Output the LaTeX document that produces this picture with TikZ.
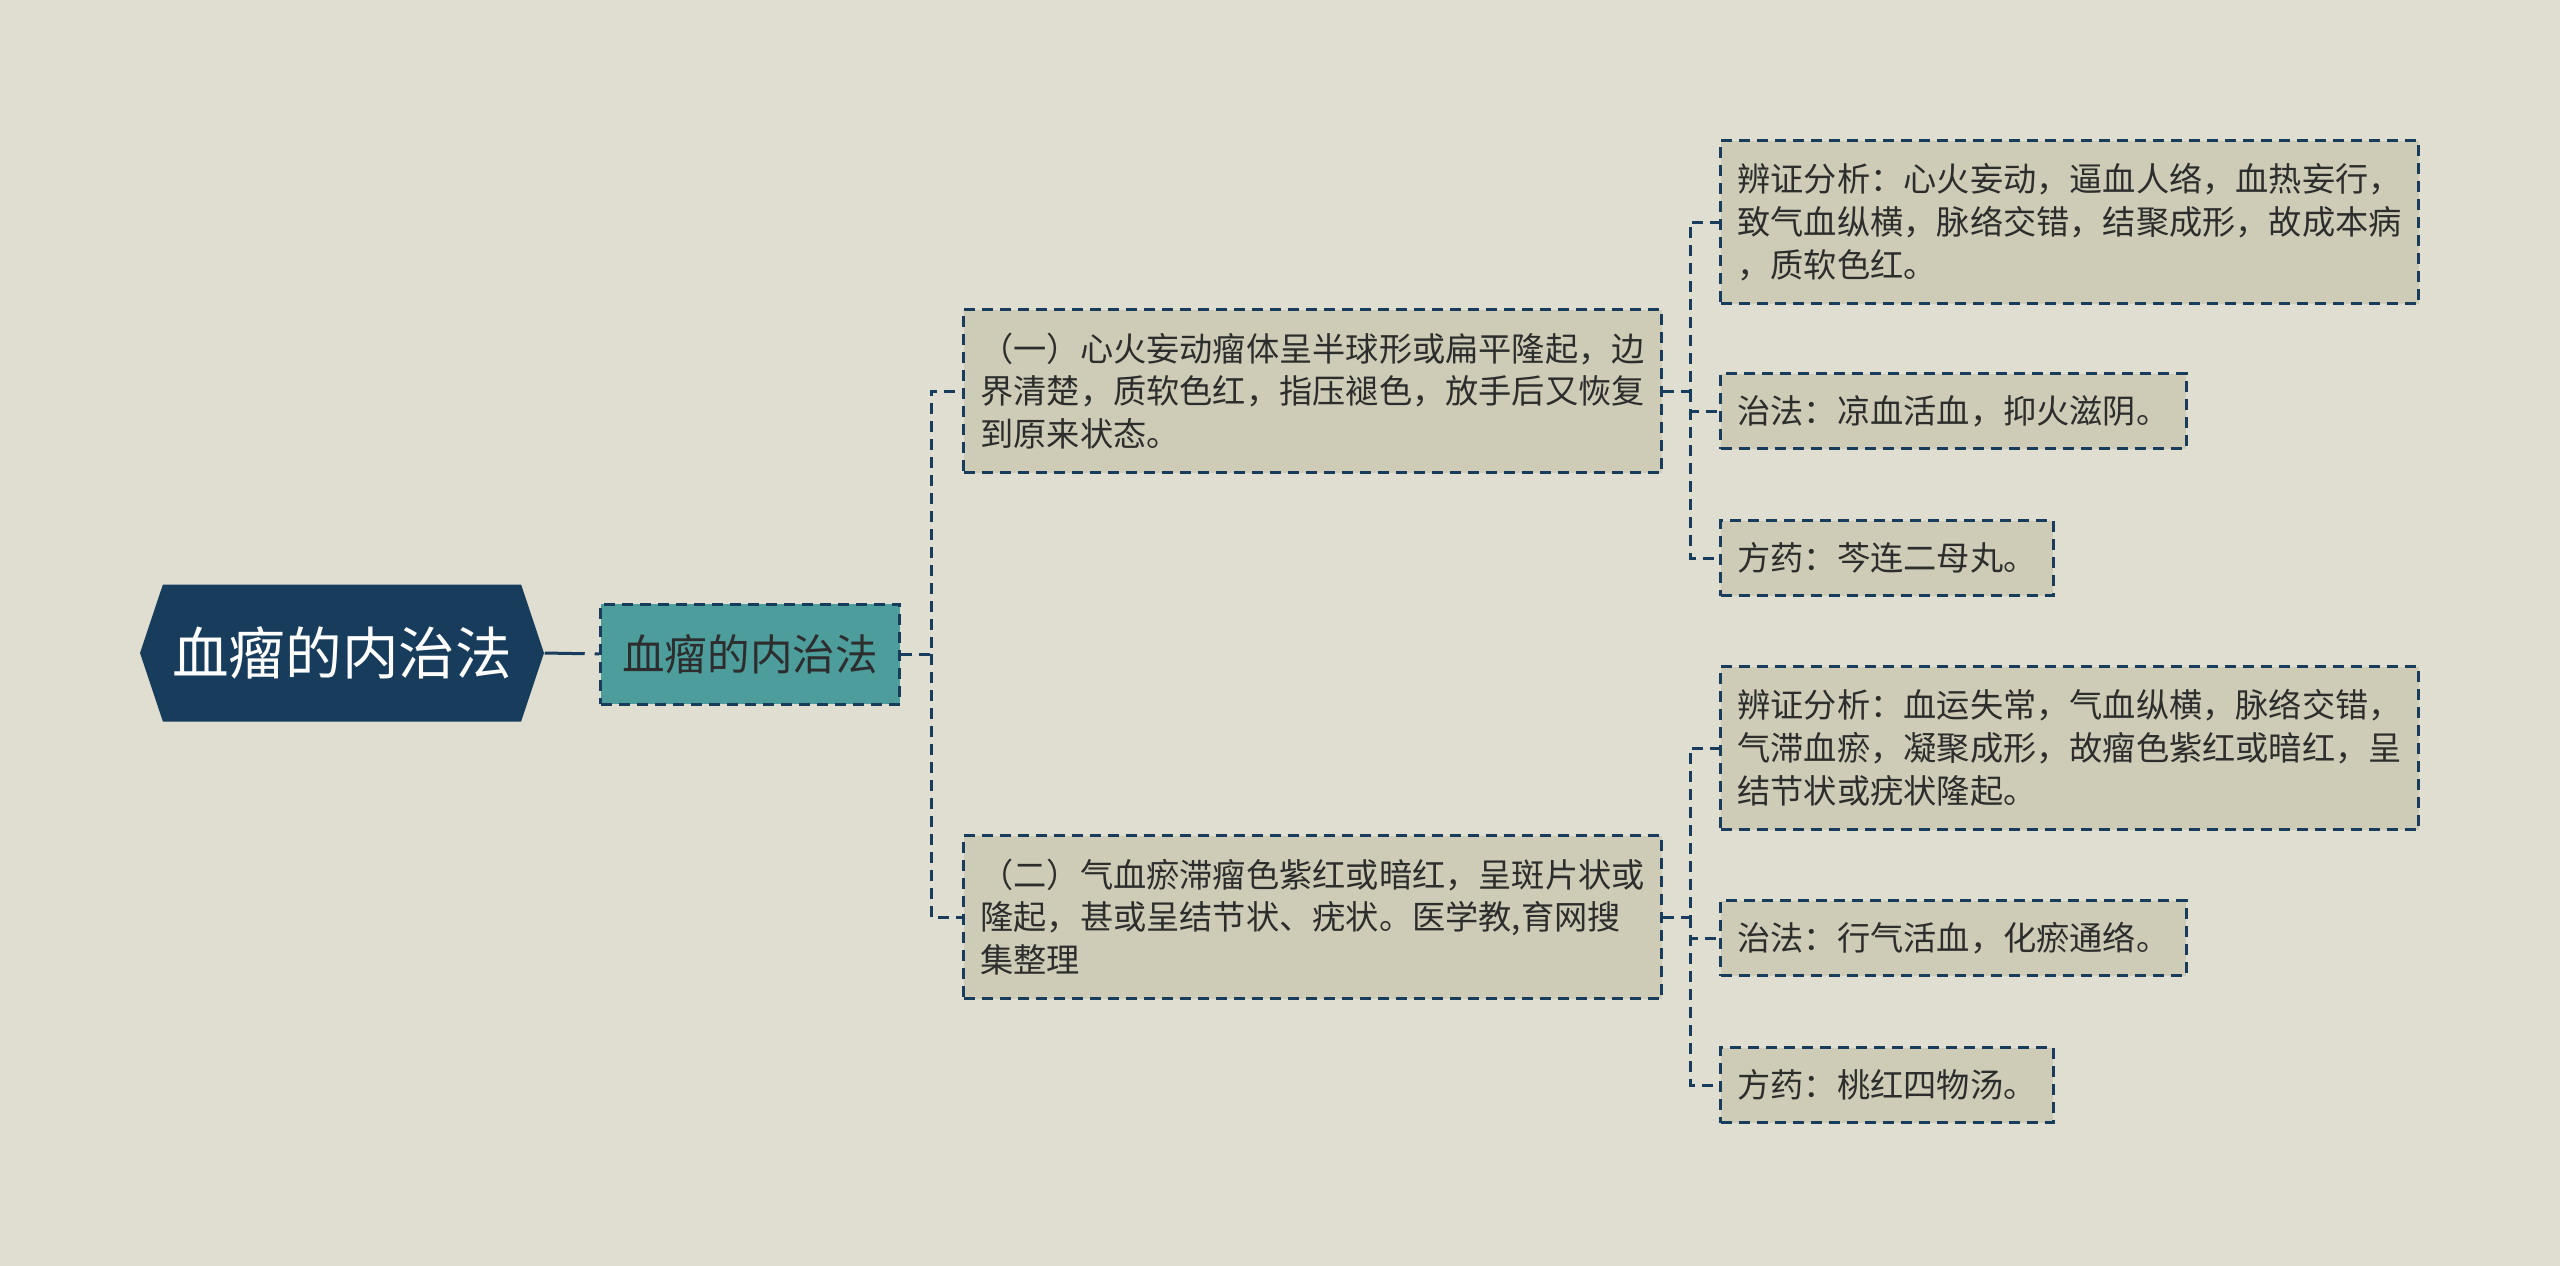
\documentclass[tikz,border=0pt]{standalone}
\usepackage{fontspec}
\setmainfont{Noto Sans CJK SC}
\usepackage{tikz}
\usetikzlibrary{positioning,shapes.symbols}

\definecolor{bgcol}{RGB}{223,222,208}
\definecolor{boxcol}{RGB}{206,204,182}
\definecolor{tealcol}{RGB}{76,157,155}
\definecolor{navy}{RGB}{24,60,92}
\definecolor{txt}{RGB}{45,45,45}

\begin{document}
\begin{tikzpicture}[x=0.1mm,y=-0.1mm,
	link/.style={draw=navy,line width=0.3mm,dash pattern=on 1.1mm off 0.7mm},
	box/.style={draw=navy,fill=boxcol,line width=0.3mm,dash pattern=on 1.1mm off 0.7mm,
		text=txt,align=left,anchor=west,inner xsep=1.7mm,inner ysep=0pt,
		font=\fontsize{9.45}{12.2}\selectfont},
	tall/.style={box,minimum height=16.3mm},
	short/.style={box,minimum height=7.5mm}]
	\useasboundingbox[fill=bgcol] (0,0) rectangle (2560,1266);

	% root and first level
	\node[signal,signal to=west and east,signal pointer angle=143,fill=navy,text=white,
		minimum width=40.4mm,minimum height=13.7mm,inner sep=0pt,
		font=\fontsize{16.1}{18}\selectfont] (root) at (342,653) {血瘤的内治法};
	\node[draw=navy,fill=tealcol,text=txt,line width=0.3mm,dash pattern=on 1.1mm off 0.7mm,
		minimum width=29.9mm,minimum height=10mm,inner sep=0pt,
		font=\fontsize{12.1}{14}\selectfont] (teal) at (750,654) {血瘤的内治法};

	% second level
	\node[tall] (b1) at (962,391) {（一）心火妄动瘤体呈半球形或扁平隆起，边\\界清楚，质软色红，指压褪色，放手后又恢复\\到原来状态。};
	\node[tall] (b2) at (962,917) {（二）气血瘀滞瘤色紫红或暗红，呈斑片状或\\隆起，甚或呈结节状、疣状。医学教,育网搜\\集整理};

	% leaves
	\node[tall] (l1) at (1719,222) {辨证分析：心火妄动，逼血人络，血热妄行，\\致气血纵横，脉络交错，结聚成形，故成本病\\，质软色红。};
	\node[short] (l2) at (1719,411) {治法：凉血活血，抑火滋阴。};
	\node[short] (l3) at (1719,558) {方药：芩连二母丸。};
	\node[tall] (l4) at (1719,748) {辨证分析：血运失常，气血纵横，脉络交错，\\气滞血瘀，凝聚成形，故瘤色紫红或暗红，呈\\结节状或疣状隆起。};
	\node[short] (l5) at (1719,938) {治法：行气活血，化瘀通络。};
	\node[short] (l6) at (1719,1085) {方药：桃红四物汤。};

	\coordinate (ja) at (931,654);
	\coordinate (jb) at (1690,391);
	\coordinate (jc) at (1690,917);

	% connectors
	\draw[link,dash pattern=on 4mm off 1mm] (root.east) -- (teal.west);
	\draw[link] (teal.east) -- (ja) |- (b1.west);
	\draw[link] (ja) |- (b2.west);
	\draw[link] (b1.east) -- (jb) |- (l1.west);
	\draw[link] (jb) |- (l2.west);
	\draw[link] (jb) |- (l3.west);
	\draw[link] (b2.east) -- (jc) |- (l4.west);
	\draw[link] (jc) |- (l5.west);
	\draw[link] (jc) |- (l6.west);
\end{tikzpicture}
\end{document}
